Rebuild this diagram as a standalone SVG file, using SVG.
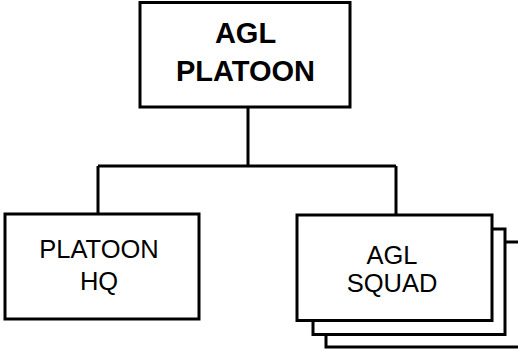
<svg xmlns="http://www.w3.org/2000/svg" width="518" height="350" viewBox="0 0 518 350">
<style>
.box{fill:#fff;stroke:#000;stroke-width:3}
.ln{fill:none;stroke:#000;stroke-width:3}
.t{font-family:"Liberation Sans",Arial,sans-serif;font-size:25.5px;fill:#000;text-anchor:middle}
.b{font-weight:bold;font-size:29px}
</style>
<rect width="518" height="350" fill="#fff"/>
<g id="connectors">
<path class="ln" d="M248,107 V166 M98,166 H396 M98,166 V214 M396,166 V215"/>
</g>
<g id="agl-platoon">
<rect class="box" x="140" y="2.5" width="210" height="104.5"/>
<text class="t b" x="245.5" y="43">AGL</text>
<text class="t b" x="245.5" y="81">PLATOON</text>
</g>
<g id="platoon-hq">
<rect class="box" x="5" y="214" width="194" height="105"/>
<text class="t" x="99" y="258">PLATOON</text>
<text class="t" x="99" y="290">HQ</text>
</g>
<g id="agl-squad">
<rect class="box" x="326" y="242" width="200" height="105"/>
<rect class="box" x="313" y="229" width="192" height="105.5"/>
<rect class="box" x="297" y="215" width="195" height="105.5"/>
<text class="t" x="392" y="264">AGL</text>
<text class="t" x="392" y="292">SQUAD</text>
</g>
</svg>
